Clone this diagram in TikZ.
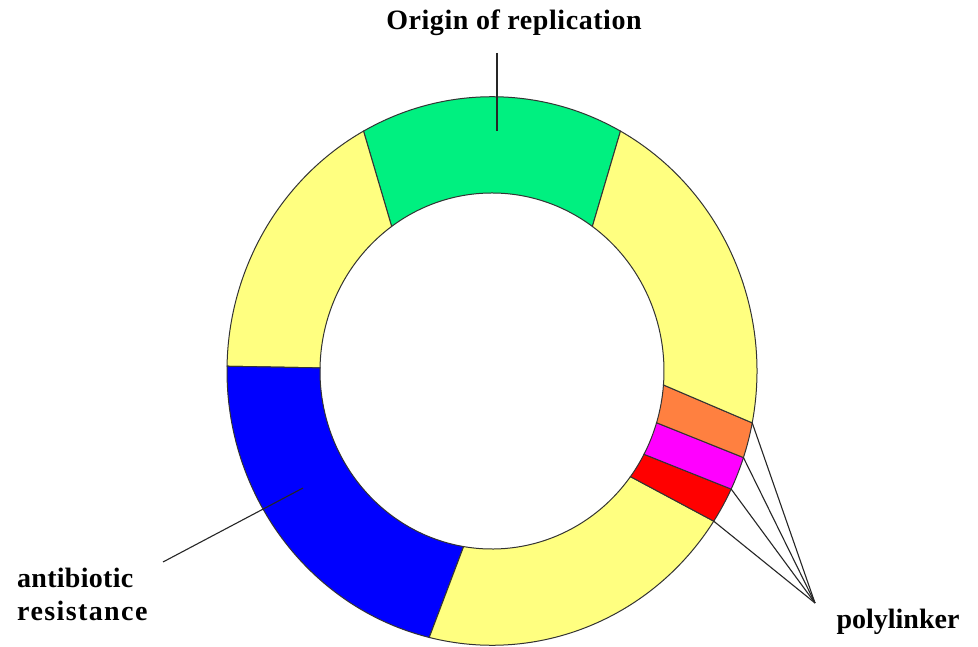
\documentclass[tikz,border=0pt]{standalone}
\usepackage{fontspec}
\setmainfont{Liberation Serif}
\begin{document}
\begin{tikzpicture}[x=1pt,y=-1pt,
  seg/.style={draw=black!80, line width=1pt},
  leader/.style={draw=black!85, line width=1.1pt},
  lbl/.style={font=\fontsize{28}{33}\selectfont\bfseries, inner sep=0pt}]
\useasboundingbox (0,0) rectangle (978,647);
\fill[white] (0,0) rectangle (978,647);

% ring segment: colour, outer start/end angle, inner start/end angle
\newcommand\ringseg[5]{%
  \filldraw[seg, fill=#1] (#2:265) arc[start angle=#2, end angle=#3, radius=265]
    -- (#5:172) arc[start angle=#5, end angle=#4, radius=172] -- cycle;}

\definecolor{ringyellow}{RGB}{255,255,128}
\definecolor{origreen}{RGB}{0,240,128}
\definecolor{resblue}{RGB}{0,0,255}
\definecolor{siteorange}{RGB}{255,128,64}
\definecolor{sitemagenta}{RGB}{255,0,255}
\definecolor{sitered}{RGB}{255,0,0}

\begin{scope}[shift={(492,371)}, yscale=-1.035]
  \ringseg{origreen}{61}{119}{54.3}{125.7}
  \ringseg{ringyellow}{119}{179}{125.7}{179}
  \ringseg{resblue}{179}{256.3}{179}{260.5}
  \ringseg{ringyellow}{256.3}{326.8}{260.5}{323.6}
  \ringseg{sitered}{326.8}{334.5}{323.6}{332.1}
  \ringseg{sitemagenta}{334.5}{341.6}{332.1}{343.1}
  \ringseg{siteorange}{341.6}{349.1}{343.1}{355.5}
  \ringseg{ringyellow}{349.1}{421}{355.5}{414.3}
  % leader anchors on the ring
  \coordinate (oriin) at (90:232);
  \coordinate (resin) at (200:214);
  \coordinate (pl1) at (349.1:265);
  \coordinate (pl2) at (341.6:265);
  \coordinate (pl3) at (334.5:265);
  \coordinate (pl4) at (326.8:265);
\end{scope}

% labels
\node[lbl] (ori) at (514,23) {\addfontfeature{LetterSpace=2}Origin of replication};
\node[lbl, align=left, anchor=west] (res) at (17,594)
  {\addfontfeature{LetterSpace=1}antibiotic\\\addfontfeature{LetterSpace=5}resistance};
\node[lbl] (poly) at (898,622) {polylinker};

% leader lines
\coordinate (oritop) at (497,53);
\coordinate (resfoot) at (163,562);
\coordinate (plhub) at (815,603);
\draw[leader] (oritop) -- (oritop |- oriin);
\draw[leader] (resfoot) -- (303,488);
\foreach \p in {pl1,pl2,pl3,pl4} \draw[leader] (\p) -- (plhub);
\end{tikzpicture}
\end{document}
